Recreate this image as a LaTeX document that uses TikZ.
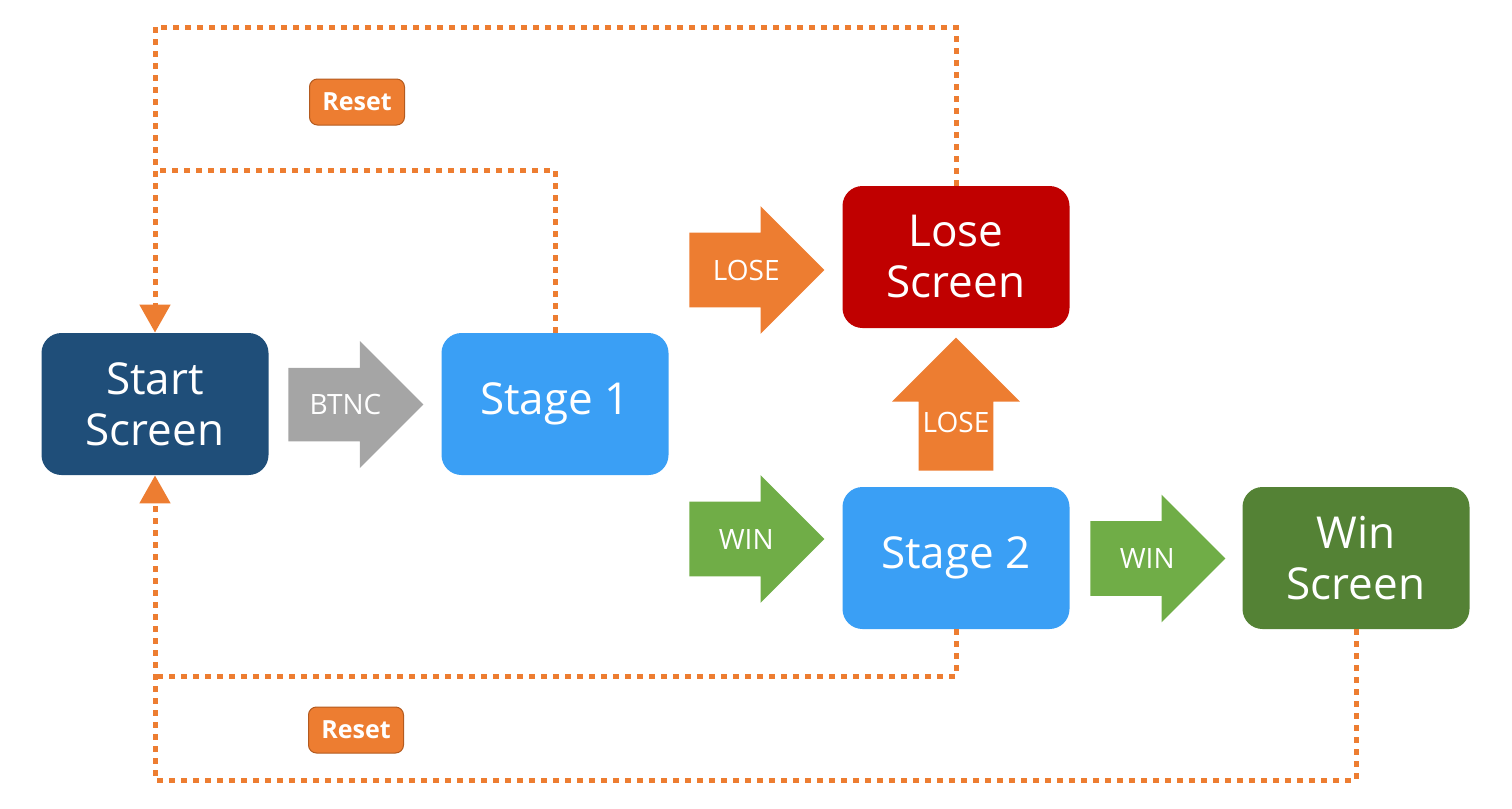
\documentclass[tikz,border=0pt]{standalone}
\usepackage{fontspec}
\setmainfont{Open Sans}
\usetikzlibrary{arrows.meta,shapes.arrows,positioning}
\definecolor{startblue}{HTML}{1F4E79}
\definecolor{stageblue}{HTML}{3A9FF5}
\definecolor{losered}{HTML}{C00000}
\definecolor{wingreen}{HTML}{548235}
\definecolor{arrowgreen}{HTML}{70AD47}
\definecolor{arrowgray}{HTML}{A5A5A5}
\definecolor{resetorange}{HTML}{ED7D31}
\definecolor{resetedge}{HTML}{B35A1F}

\begin{document}
\begin{tikzpicture}[x=0.5pt,y=-0.5pt,>={Triangle[width=15pt,length=14pt]},
  screen/.style={rounded corners=10pt,minimum width=113.5pt,minimum height=71pt,inner sep=0pt,
    text=white,align=center,font=\fontsize{22}{25.5}\selectfont},
  bigarrow/.style={single arrow,anchor=tail,minimum height=67.5pt,minimum width=63.5pt,
    single arrow head extend=13.25pt,inner xsep=0pt,inner ysep=13.5pt,
    text height=10pt,text depth=0pt,text=white,font=\fontsize{14}{16}\selectfont},
  sidearrow/.style={bigarrow,execute at begin node=\kern8pt},
  resetline/.style={draw=resetorange,line width=2.5pt,dash pattern=on 3pt off 3pt},
  resetbox/.style={fill=resetorange,draw=resetedge,line width=0.5pt,rounded corners=4pt,
    minimum width=47.5pt,minimum height=23pt,text=white,font=\bfseries\fontsize{12.5}{14}\selectfont}]
\useasboundingbox (0,0) rectangle (1512,809);

% screens
\node[screen,fill=startblue] (start) at (155,404) {Start\\Screen};
\node[screen,fill=stageblue] (stage1) at (555,404) {Stage 1};
\node[screen,fill=losered] (lose) at (956,257) {Lose\\Screen};
\node[screen,fill=stageblue] (stage2) at (956,558) {Stage 2};
\node[screen,fill=wingreen] (win) at (1356,558) {Win\\Screen};

% transitions
\node[sidearrow,fill=arrowgray,inner ysep=13pt] (btnc) at (288,404.5) {BTNC};
\node[sidearrow,fill=resetorange] (loseright) at (689,270) {LOSE};
\node[bigarrow,fill=resetorange,shape border rotate=90,minimum height=66.5pt,
  text width=37pt,align=center] (loseup) at (956,471) {LOSE};
\node[sidearrow,fill=arrowgreen] (winone) at (689,539) {WIN};
\node[sidearrow,fill=arrowgreen] (wintwo) at (1090,558.5) {WIN};

% reset paths
\coordinate (topjoin) at (155,170);
\coordinate (botjoin) at (155,676);
\draw[resetline,->] (lose.north) |- (155,27) -- (start.north);
\draw[resetline] (stage1.north) |- (topjoin);
\draw[resetline,->] (win.south) |- (155,780) -- (start.south);
\draw[resetline] (stage2.south) |- (botjoin);

\node[resetbox] (resettop) at (357,102) {Reset};
\node[resetbox] (resetbottom) at (356,730) {Reset};
\end{tikzpicture}
\end{document}
